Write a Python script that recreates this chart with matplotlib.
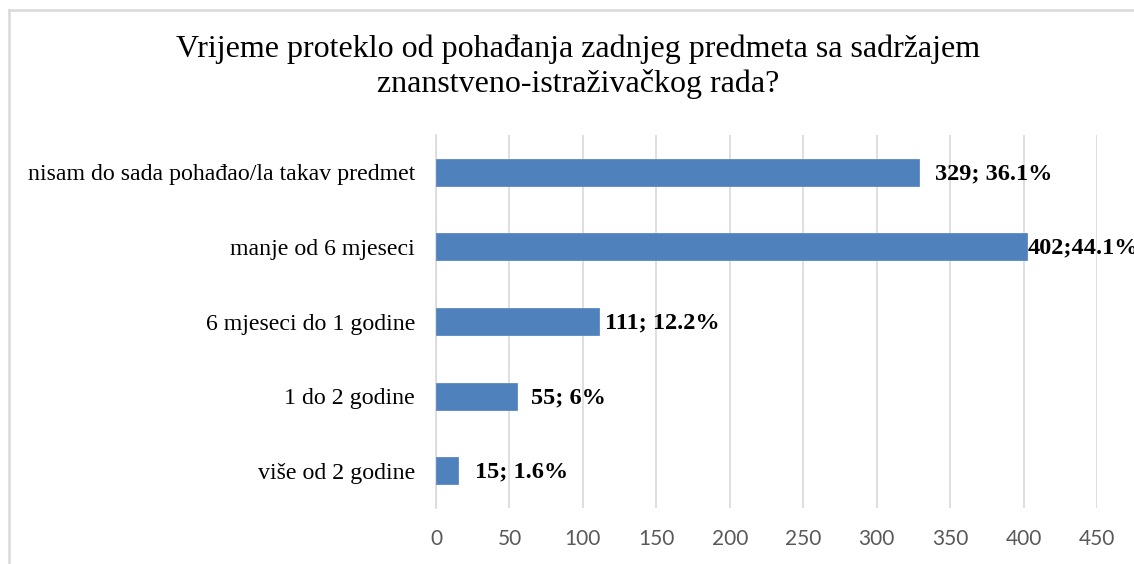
import matplotlib
matplotlib.use("Agg")
import matplotlib.pyplot as plt
from matplotlib.lines import Line2D

# Data (top to bottom as shown)
categories = [
    "nisam do sada pohađao/la takav predmet",
    "manje od 6 mjeseci",
    "6 mjeseci do 1 godine",
    "1 do 2 godine",
    "više od 2 godine",
]
counts = [329, 402, 111, 55, 15]
labels = ["329; 36.1%", "402;44.1%", "111; 12.2%", "55; 6%", "15; 1.6%"]
label_gap = [11, 1, 4, 10, 12]  # offset of each data label from bar end, in points

title = ("Vrijeme proteklo od pohađanja zadnjeg predmeta sa sadržajem\n"
         "znanstveno-istraživačkog rada?")

serif = ["Liberation Serif", "DejaVu Serif"]
bar_color = "#4F81BD"
grid_color = "#D9D9D9"

fig = plt.figure(figsize=(11.34, 5.64), dpi=100)
ax = fig.add_axes([0.3845, 0.0993, 0.9674 - 0.3845, 0.7606 - 0.0993])

# Chart border (only left and top visible in the crop)
bx, by = 8.5 / 1134, 1 - 9.5 / 564
fig.add_artist(Line2D([bx, bx], [0, by], transform=fig.transFigure,
                      color=grid_color, linewidth=1.8))
fig.add_artist(Line2D([bx, 1], [by, by], transform=fig.transFigure,
                      color=grid_color, linewidth=1.8))

y = range(len(categories))
ax.barh(y, counts, height=0.36, color=bar_color, edgecolor="#5B8AC4",
        linewidth=0.6, zorder=3)

ax.set_xlim(0, 450)
ax.set_ylim(len(categories) - 0.5, -0.5)
ax.set_xticks(range(0, 451, 50))
ax.set_yticks(list(y))
ax.set_yticklabels(categories, fontfamily=serif, fontsize=17.2, color="black")

for lab in ax.get_xticklabels():
    lab.set_fontfamily(["Lato", "DejaVu Sans"])
ax.tick_params(axis="x", length=0, pad=15, labelsize=15, labelcolor="#595959")
ax.tick_params(axis="y", length=0, pad=15)

ax.grid(axis="x", color=grid_color, linewidth=1.2, zorder=0)
for side in ["top", "right", "bottom"]:
    ax.spines[side].set_visible(False)
ax.spines["left"].set_color(grid_color)
ax.spines["left"].set_linewidth(1.2)

for i, (v, txt) in enumerate(zip(counts, labels)):
    ax.annotate(txt, xy=(v, i), xytext=(label_gap[i], -1),
                textcoords="offset points", va="center", ha="left",
                fontfamily=serif, fontweight="bold", fontsize=17.5,
                color="black", annotation_clip=False, clip_on=False)

fig.text(578 / 1134, 1 - 67 / 564, title, ha="center", va="center",
         fontfamily=serif, fontsize=23, linespacing=1.2, color="black")

fig.savefig("out.png", dpi=100)
